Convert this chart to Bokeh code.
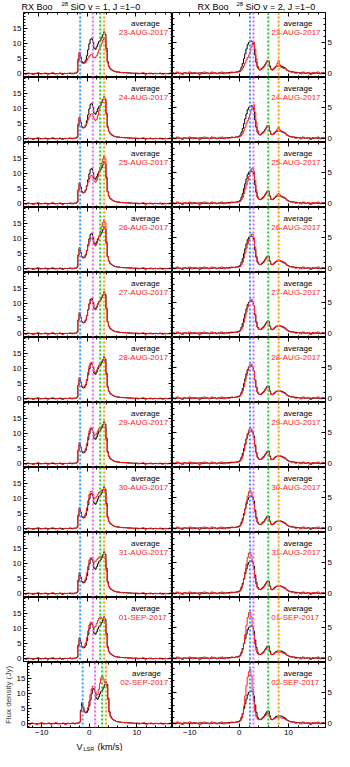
from bokeh.plotting import figure
from bokeh.layouts import column, row
from bokeh.models import Span, LinearAxis, FixedTicker, Range1d
from bokeh.embed import file_html
from bokeh.resources import INLINE
from bokeh.core.properties import value

FONT = "Liberation Sans"

# ---------------- data ----------------
DATES = ["23-AUG-2017", "24-AUG-2017", "25-AUG-2017", "26-AUG-2017", "27-AUG-2017",
         "28-AUG-2017", "29-AUG-2017", "30-AUG-2017", "31-AUG-2017", "01-SEP-2017", "02-SEP-2017"]

# velocity channels (km/s), left: 28SiO v=1 J=1-0
VEL_L = [-13.0, -12.5, -12.0, -11.5, -11.0, -10.5, -10.0, -9.5, -9.0, -8.5, -8.0, -7.5, -7.0, -6.5,
         -6.0, -5.5, -5.0, -4.5, -4.0, -3.5, -3.0, -2.5,
         -2.25, -2.0, -1.75, -1.5, -1.25, -1.0, -0.75, -0.5, -0.25, 0.0, 0.25, 0.5, 0.75, 1.0, 1.25,
         1.5, 1.75, 2.0, 2.25, 2.5, 2.75, 3.0, 3.25, 3.5, 3.75, 4.0, 4.25, 4.5, 4.75, 5.0, 5.25, 5.5,
         5.75, 6.0,
         6.5, 7.0, 7.5, 8.0, 8.5, 9.0, 9.5, 10.0, 10.5, 11.0, 11.5, 12.0, 12.5, 13.0, 13.5, 14.0,
         14.5, 15.0, 15.5, 16.0, 16.5, 17.0, 17.5]

AVG_L = [0.0, 0.0, 0.05, 0.0, -0.05, 0.0, 0.05, 0.0, 0.0, 0.05, 0.0, 0.0, 0.05, 0.0, 0.0, 0.05,
         0.0, 0.05, 0.05, 0.1, 0.1, 0.15,
         0.2, 0.5, 4.5, 7.0, 5.5, 4.0, 3.6, 3.8, 4.5, 6.0, 8.0, 10.0, 11.5, 11.8, 10.5, 8.5, 8.2,
         9.0, 10.0, 10.8, 11.2, 12.0, 13.0, 14.0, 13.2, 8.5, 4.0, 2.5, 1.8, 1.4, 1.1, 0.9, 0.7, 0.6,
         0.5, 0.4, 0.35, 0.3, 0.25, 0.2, 0.15, 0.1, 0.1, 0.05, 0.05, 0.0, 0.05, 0.0, 0.0, 0.05,
         0.0, 0.0, 0.05, 0.0, 0.0, 0.0, 0.0]

RED_L_WING_LO = [0.1, -0.2, 0.2, 0.0, -0.3, 0.1, 0.3, -0.1, 0.0, 0.2, -0.2, 0.1, 0.3, -0.1, 0.0,
                 0.2, -0.3, 0.1, 0.0, 0.2, -0.1, 0.1]
RED_L_WING_HI = [0.5, 0.4, 0.3, 0.3, 0.1, 0.2, 0.0, 0.2, -0.1, 0.1, 0.3, -0.2, 0.0, 0.2, -0.1,
                 0.1, 0.0, 0.2, -0.2, 0.1, 0.0, 0.2, -0.1]

RED_L_23AUG = [0.1, 0.6, 5.0, 7.2, 5.0, 3.6, 3.4, 3.5, 3.8, 4.5, 5.2, 5.8, 6.3, 6.4, 5.8, 5.3, 5.5,
               6.0, 7.0, 8.0, 9.0, 10.0, 11.2, 12.0, 11.5, 7.5, 3.6, 2.3, 1.7, 1.3, 1.0, 0.8, 0.7, 0.5]
RED_L_24AUG = [0.1, 0.6, 5.0, 7.3, 5.2, 3.8, 3.6, 3.8, 4.3, 5.2, 6.3, 7.3, 8.1, 8.3, 7.5, 6.5, 6.1,
               6.5, 7.8, 9.5, 11.0, 12.2, 13.2, 13.9, 13.0, 8.2, 3.8, 2.4, 1.8, 1.3, 1.0, 0.8, 0.7, 0.5]
RED_L_25AUG = [0.1, 0.5, 4.5, 6.5, 5.0, 3.8, 3.6, 3.9, 4.6, 5.8, 7.2, 8.4, 9.3, 9.6, 8.8, 7.5, 7.2,
               7.8, 9.0, 10.5, 12.0, 13.5, 15.0, 16.0, 15.0, 9.0, 4.0, 2.5, 1.8, 1.4, 1.1, 0.9, 0.7, 0.6]
RED_L_26AUG = [0.1, 0.5, 4.6, 6.6, 5.2, 3.9, 3.7, 4.0, 4.8, 6.1, 7.6, 8.9, 9.9, 10.2, 9.3, 7.9, 7.6,
               8.3, 9.5, 11.0, 12.5, 14.0, 15.5, 16.5, 15.3, 9.2, 4.1, 2.6, 1.9, 1.4, 1.1, 0.9, 0.7, 0.6]
RED_L_27AUG = [0.1, 0.5, 4.6, 6.8, 5.4, 4.0, 3.7, 3.9, 4.6, 6.0, 8.0, 9.8, 11.0, 11.2, 10.0, 8.3, 8.0,
               8.8, 9.8, 10.6, 11.2, 12.0, 12.8, 13.5, 12.8, 8.3, 3.9, 2.5, 1.8, 1.4, 1.1, 0.9, 0.7, 0.6]
RED_L_28AUG = [0.1, 0.5, 4.5, 6.8, 5.5, 4.2, 3.8, 4.0, 4.8, 6.5, 8.8, 10.8, 12.0, 12.2, 10.8, 9.0, 8.8,
               9.5, 10.5, 11.3, 11.8, 12.3, 12.8, 13.0, 12.2, 8.0, 3.8, 2.4, 1.8, 1.4, 1.1, 0.9, 0.7, 0.6]
RED_L_29AUG = [0.1, 0.5, 4.4, 6.5, 5.4, 4.1, 3.8, 4.1, 5.0, 6.8, 9.0, 11.0, 12.0, 12.0, 10.8, 9.5, 9.6,
               10.2, 11.0, 11.8, 12.2, 12.4, 12.6, 12.5, 11.8, 7.8, 3.7, 2.4, 1.8, 1.4, 1.1, 0.9, 0.7, 0.6]
RED_L_30AUG = [0.1, 0.5, 4.2, 6.2, 5.2, 4.0, 3.8, 4.2, 5.2, 7.0, 9.3, 11.4, 12.4, 12.6, 11.4, 10.2, 10.3,
               10.8, 11.5, 12.2, 12.6, 12.8, 13.0, 12.9, 12.0, 7.8, 3.7, 2.4, 1.8, 1.4, 1.1, 0.9, 0.7, 0.6]
RED_L_31AUG = [0.1, 0.5, 4.1, 6.0, 5.1, 4.0, 3.8, 4.2, 5.2, 7.0, 9.2, 11.2, 12.0, 12.0, 11.3, 10.6, 10.8,
               11.3, 11.8, 12.2, 12.5, 12.6, 12.6, 12.4, 11.6, 7.6, 3.6, 2.4, 1.8, 1.4, 1.1, 0.9, 0.7, 0.6]
RED_L_01SEP = [0.1, 0.5, 4.0, 6.0, 5.0, 3.9, 3.8, 4.2, 5.2, 7.1, 9.3, 11.3, 12.2, 12.0, 11.0, 10.3, 10.8,
               11.8, 12.8, 13.6, 14.0, 13.6, 13.0, 12.7, 11.8, 7.6, 3.6, 2.4, 1.8, 1.4, 1.1, 0.9, 0.7, 0.6]
RED_L_02SEP = [0.1, 0.5, 4.0, 6.0, 5.0, 3.9, 3.8, 4.3, 5.4, 7.4, 9.6, 11.6, 12.5, 12.5, 11.0, 9.5, 9.8,
               11.5, 13.5, 15.3, 16.0, 15.0, 13.8, 13.5, 12.5, 8.0, 3.7, 2.4, 1.8, 1.4, 1.1, 0.9, 0.7, 0.6]

# velocity channels (km/s), right: 28SiO v=2 J=1-0
VEL_R = [-13.5, -13.0, -12.5, -12.0, -11.5, -11.0, -10.5, -10.0, -9.5, -9.0, -8.5, -8.0, -7.5, -7.0,
         -6.5, -6.0, -5.5, -5.0, -4.5, -4.0, -3.5, -3.0, -2.5, -2.0, -1.5, -1.0, -0.5,
         0.0, 0.25, 0.5, 0.75, 1.0, 1.25, 1.5, 1.75, 2.0, 2.25, 2.5, 2.75, 3.0, 3.25, 3.5, 3.75, 4.0,
         4.25, 4.5, 4.75, 5.0, 5.25, 5.5, 5.75, 6.0, 6.25, 6.5, 6.75, 7.0, 7.25, 7.5, 7.75, 8.0, 8.25,
         8.5, 8.75, 9.0, 9.25, 9.5, 9.75, 10.0, 10.25, 10.5,
         11.0, 11.5, 12.0, 12.5, 13.0, 13.5, 14.0, 14.5, 15.0, 15.5, 16.0, 16.5, 17.0, 17.5]

AVG_R = [0.0, 0.0, 0.05, 0.0, 0.0, 0.05, 0.0, 0.0, 0.05, 0.0, 0.0, 0.05, 0.0, 0.0, 0.05, 0.0, 0.0,
         0.05, 0.0, 0.05, 0.0, 0.05, 0.05, 0.1, 0.1, 0.15, 0.2,
         0.3, 0.5, 1.0, 1.6, 2.4, 3.2, 4.0, 4.7, 5.1, 5.3, 5.3, 5.2, 4.5, 3.0, 1.8, 1.0, 0.7, 0.6,
         0.7, 0.9, 1.1, 1.4, 1.7, 2.0, 2.0, 1.2, 0.7, 0.6, 0.7, 0.9, 1.1, 1.2, 1.2, 1.2, 1.2, 1.1,
         1.0, 0.9, 0.7, 0.5, 0.4, 0.3, 0.25,
         0.2, 0.15, 0.1, 0.05, 0.05, 0.0, 0.05, 0.0, 0.0, 0.05, 0.0, 0.0, 0.05, 0.0]

RED_R_WING_LO = [0.1, -0.1, 0.2, 0.0, -0.2, 0.1, 0.0, 0.2, -0.1, 0.1, 0.0, -0.2, 0.1, 0.2, 0.0, -0.1,
                 0.2, 0.1, -0.1, 0.0, 0.2, -0.1, 0.1, 0.0, 0.2, 0.1, 0.2]
RED_R_WING_HI = [0.2, 0.0, 0.1, -0.1, 0.2, 0.0, 0.1, -0.2, 0.1, 0.0, 0.2, -0.1, 0.1, 0.0]

RED_R_23AUG = [0.2, 0.3, 0.5, 0.8, 1.2, 1.7, 2.2, 2.6, 3.0, 3.5, 4.3, 5.0, 5.1, 4.0, 2.4, 1.2, 0.7, 0.5,
               0.6, 0.8, 1.0, 1.3, 1.7, 2.1, 2.0, 1.0, 0.6, 0.5, 0.8, 1.0, 1.1, 1.6, 2.1, 1.4, 1.0, 0.9,
               0.8, 0.8, 0.7, 0.5, 0.4, 0.3, 0.2]
RED_R_24AUG = [0.2, 0.3, 0.5, 0.8, 1.3, 1.8, 2.4, 2.9, 3.4, 4.0, 4.7, 5.4, 5.5, 4.3, 2.6, 1.3, 0.7, 0.5,
               0.6, 0.8, 1.0, 1.3, 1.7, 2.1, 2.1, 1.1, 0.6, 0.6, 0.8, 1.0, 1.2, 1.5, 1.8, 1.4, 1.1, 1.0,
               0.9, 0.8, 0.7, 0.5, 0.4, 0.3, 0.2]
RED_R_25AUG = [0.2, 0.3, 0.6, 1.0, 1.6, 2.3, 3.0, 3.7, 4.4, 5.0, 5.6, 5.8, 5.3, 3.8, 2.2, 1.1, 0.7, 0.6,
               0.6, 0.8, 1.0, 1.3, 1.6, 2.0, 2.0, 1.1, 0.6, 0.6, 0.8, 1.0, 1.2, 1.4, 1.6, 1.4, 1.1, 1.0,
               0.9, 0.8, 0.7, 0.5, 0.4, 0.3, 0.2]
RED_R_26AUG = [0.2, 0.3, 0.6, 1.0, 1.7, 2.5, 3.3, 4.0, 4.7, 5.2, 5.6, 5.6, 5.0, 3.5, 2.0, 1.1, 0.7, 0.6,
               0.6, 0.8, 1.0, 1.3, 1.6, 1.9, 1.9, 1.1, 0.6, 0.6, 0.8, 1.0, 1.1, 1.3, 1.4, 1.3, 1.1, 1.0,
               0.9, 0.8, 0.7, 0.5, 0.4, 0.3, 0.2]
RED_R_27AUG = [0.2, 0.4, 0.7, 1.1, 1.8, 2.6, 3.5, 4.3, 5.0, 5.5, 5.6, 5.3, 4.6, 3.2, 1.9, 1.0, 0.7, 0.6,
               0.6, 0.8, 1.0, 1.3, 1.6, 1.9, 1.9, 1.1, 0.6, 0.6, 0.8, 1.0, 1.1, 1.2, 1.3, 1.2, 1.1, 1.0,
               0.9, 0.8, 0.7, 0.5, 0.4, 0.3, 0.2]
RED_R_28AUG = [0.2, 0.4, 0.7, 1.2, 1.9, 2.8, 3.7, 4.5, 5.2, 5.6, 5.6, 5.2, 4.4, 3.0, 1.8, 1.0, 0.7, 0.6,
               0.6, 0.8, 1.0, 1.3, 1.6, 1.9, 1.8, 1.1, 0.6, 0.6, 0.8, 1.0, 1.1, 1.2, 1.2, 1.2, 1.1, 1.0,
               0.9, 0.8, 0.7, 0.5, 0.4, 0.3, 0.2]
RED_R_29AUG = [0.2, 0.4, 0.7, 1.2, 2.0, 3.0, 4.0, 4.9, 5.5, 5.8, 5.6, 5.0, 4.2, 2.8, 1.7, 1.0, 0.7, 0.6,
               0.6, 0.8, 1.0, 1.3, 1.6, 1.9, 1.8, 1.1, 0.6, 0.6, 0.8, 1.0, 1.1, 1.2, 1.2, 1.2, 1.1, 1.0,
               0.9, 0.8, 0.7, 0.5, 0.4, 0.3, 0.2]
RED_R_30AUG = [0.2, 0.4, 0.8, 1.3, 2.1, 3.2, 4.3, 5.3, 6.0, 6.2, 5.8, 5.0, 4.0, 2.7, 1.6, 1.0, 0.7, 0.6,
               0.6, 0.8, 1.0, 1.3, 1.6, 1.9, 1.8, 1.1, 0.6, 0.6, 0.8, 1.0, 1.1, 1.2, 1.2, 1.2, 1.1, 1.0,
               0.9, 0.8, 0.7, 0.5, 0.4, 0.3, 0.2]
RED_R_31AUG = [0.2, 0.4, 0.8, 1.4, 2.3, 3.5, 4.8, 5.9, 6.6, 6.8, 6.2, 5.1, 3.9, 2.5, 1.5, 0.9, 0.7, 0.6,
               0.6, 0.8, 1.0, 1.3, 1.6, 1.9, 1.8, 1.1, 0.6, 0.6, 0.8, 1.0, 1.1, 1.2, 1.2, 1.2, 1.1, 1.0,
               0.9, 0.8, 0.7, 0.5, 0.4, 0.3, 0.2]
RED_R_01SEP = [0.2, 0.4, 0.8, 1.4, 2.5, 3.9, 5.4, 6.7, 7.5, 7.6, 6.8, 5.3, 3.8, 2.3, 1.3, 0.8, 0.6, 0.6,
               0.6, 0.8, 1.0, 1.3, 1.5, 1.8, 1.7, 1.0, 0.6, 0.6, 0.7, 0.9, 1.0, 1.0, 1.0, 1.0, 1.0, 0.9,
               0.8, 0.8, 0.6, 0.5, 0.4, 0.3, 0.2]
RED_R_02SEP = [0.2, 0.4, 0.8, 1.5, 2.8, 4.5, 6.2, 7.6, 8.5, 8.9, 7.8, 5.6, 3.6, 2.0, 1.1, 0.7, 0.6, 0.6,
               0.6, 0.8, 1.0, 1.2, 1.4, 1.7, 1.6, 1.0, 0.6, 0.6, 0.7, 0.8, 0.9, 0.9, 0.9, 0.9, 0.9, 0.8,
               0.8, 0.7, 0.6, 0.5, 0.4, 0.3, 0.2]

RED_L = [RED_L_23AUG, RED_L_24AUG, RED_L_25AUG, RED_L_26AUG, RED_L_27AUG, RED_L_28AUG,
         RED_L_29AUG, RED_L_30AUG, RED_L_31AUG, RED_L_01SEP, RED_L_02SEP]
RED_R = [RED_R_23AUG, RED_R_24AUG, RED_R_25AUG, RED_R_26AUG, RED_R_27AUG, RED_R_28AUG,
         RED_R_29AUG, RED_R_30AUG, RED_R_31AUG, RED_R_01SEP, RED_R_02SEP]

# marker velocities (km/s) of the dotted lines
VLINES_L = [-1.4, 1.2, 2.7, 3.5]
VLINES_R = [2.2, 2.9, 5.9, 8.0]
VLINE_COLORS = ["#3399ff", "#ee66ee", "#22cc22", "#ff9900"]

# axis ranges and tick values
XL = (-13.0, 17.5)
XR = (-13.5, 17.5)
YL = (-1.3, 20.5)
YR = (-0.7, 10.0)
X_MAJOR = [-10, 0, 10]
X_MINOR = [-12, -8, -6, -4, -2, 2, 4, 6, 8, 12, 14, 16]
YL_MAJOR = [0, 5, 10, 15]
YL_MINOR = [-1, 1, 2, 3, 4, 6, 7, 8, 9, 11, 12, 13, 14, 16, 17, 18, 19, 20]
YR_MAJOR = [0, 5]
YR_MINOR = [1, 2, 3, 4, 6, 7, 8, 9]

# ---------------- layout ----------------
BL = 23      # left border of left column
BR = 8       # right border of right column
FW_L = 149
FW_R = 154
FH = 65
BB = 13
NROW = len(DATES)
RED = "#ff1a1a"


def labeled_axis(p, side, major, minor):
    ax = LinearAxis(ticker=FixedTicker(ticks=major, minor_ticks=minor))
    ax.major_tick_in = 4
    ax.major_tick_out = 0
    ax.minor_tick_in = 2
    ax.minor_tick_out = 0
    ax.axis_line_color = "black"
    ax.major_tick_line_color = "black"
    ax.minor_tick_line_color = "black"
    ax.major_label_text_font = FONT
    ax.major_label_text_font_size = "8px"
    ax.major_label_text_color = "black"
    ax.major_label_standoff = 2
    p.add_layout(ax, side)
    return ax


def bare_axis(p, side, major, minor):
    # ticks only, no labels: minor ticks and major ticks drawn as short/long marks
    for ticks, length in ((minor, 2), (major, 4)):
        ax = LinearAxis(ticker=FixedTicker(ticks=[], minor_ticks=ticks))
        ax.axis_line_color = None
        ax.major_tick_line_color = None
        ax.major_tick_in = 0
        ax.major_tick_out = 0
        ax.minor_tick_in = length
        ax.minor_tick_out = 0
        ax.minor_tick_line_color = "black"
        ax.major_label_standoff = 0
        p.add_layout(ax, side)


def panel(col, i):
    bottom = (i == NROW - 1)
    if col == 0:
        xr, yr, fw, vel = XL, YL, FW_L, VEL_L
        avg = AVG_L
        red = RED_L_WING_LO + RED_L[i] + RED_L_WING_HI
        vlines = VLINES_L
        ymaj, ymin = YL_MAJOR, YL_MINOR
    else:
        xr, yr, fw, vel = XR, YR, FW_R, VEL_R
        avg = AVG_R
        red = RED_R_WING_LO + RED_R[i] + RED_R_WING_HI
        vlines = VLINES_R
        ymaj, ymin = YR_MAJOR, YR_MINOR
    bl = BL if col == 0 else 0
    br = BR if col == 1 else 0
    bb = BB if bottom else 0
    p = figure(width=bl + fw + br, height=FH + bb,
               x_range=Range1d(*xr), y_range=Range1d(*yr),
               x_axis_location=None, y_axis_location=None,
               output_backend="svg", toolbar_location=None,
               min_border_left=bl, min_border_right=br,
               min_border_top=0, min_border_bottom=bb)
    p.grid.visible = False
    p.xgrid.grid_line_color = None
    p.ygrid.grid_line_color = None
    p.outline_line_color = "black"
    p.outline_line_width = 1
    p.background_fill_color = "white"
    p.border_fill_color = "white"

    # axes on all four sides, ticks pointing inward
    if col == 0:
        ax_left = labeled_axis(p, "left", ymaj, ymin)
        if bottom:
            ax_left.axis_label = "Flux density (Jy)"
            ax_left.axis_label_text_font = FONT
            ax_left.axis_label_text_font_size = "8px"
            ax_left.axis_label_text_font_style = "normal"
            ax_left.axis_label_standoff = 1
        bare_axis(p, "right", ymaj, ymin)
    else:
        bare_axis(p, "left", ymaj, ymin)
        labeled_axis(p, "right", ymaj, ymin)
    bare_axis(p, "above", X_MAJOR, X_MINOR)
    if bottom:
        labeled_axis(p, "below", X_MAJOR, X_MINOR)
    else:
        bare_axis(p, "below", X_MAJOR, X_MINOR)

    for v, c in zip(vlines, VLINE_COLORS):
        p.add_layout(Span(location=v, dimension="height", line_color=c,
                          line_width=2, line_dash="2 2"))

    p.step(vel, avg, mode="center", line_color="black", line_width=1)
    p.step(vel, red, mode="center", line_color=RED, line_width=1)

    y0, y1 = yr
    p.text(x=[9.0], y=[y1 - 0.17 * (y1 - y0)], text=["average"],
           text_font=value(FONT), text_font_size="8px", text_color="black",
           text_align="left", text_baseline="middle")
    p.text(x=[6.5], y=[y1 - 0.30 * (y1 - y0)], text=[DATES[i]],
           text_font=value(FONT), text_font_size="8px", text_color=RED,
           text_align="left", text_baseline="middle")
    return p


W = BL + FW_L + FW_R + BR

header = figure(width=W, height=12, x_range=Range1d(0, W), y_range=Range1d(0, 12),
                x_axis_location=None, y_axis_location=None, output_backend="svg",
                toolbar_location=None, min_border=0)
header.outline_line_color = None
header.grid.visible = False
HDR_TXT = ["RX Boo", "SiO v = 1, J =1\u22120", "RX Boo", "SiO v = 2, J =1\u22120"]
HDR_X = [21, 70, 197, 245]
header.text(x=HDR_X, y=[6] * 4, text=HDR_TXT, text_font=value(FONT), text_font_size="9px",
            text_color="black", text_align="left", text_baseline="middle")
header.text(x=[61, 236], y=[8.5, 8.5], text=["28", "28"], text_font=value(FONT),
            text_font_size="6px", text_color="black", text_align="left", text_baseline="middle")

footer = figure(width=W, height=11, x_range=Range1d(0, W), y_range=Range1d(0, 11),
                x_axis_location=None, y_axis_location=None, output_backend="svg",
                toolbar_location=None, min_border=0)
footer.outline_line_color = None
footer.grid.visible = False
footer.text(x=[76, 97], y=[6, 6], text=["V", "(km/s)"], text_font=value(FONT),
            text_font_size="9px", text_color="black", text_align="left", text_baseline="middle")
footer.text(x=[83], y=[3.5], text=["LSR"], text_font=value(FONT),
            text_font_size="5.5px", text_color="black", text_align="left", text_baseline="middle")

rows = [row(panel(0, i), panel(1, i), spacing=0) for i in range(NROW)]
layout = column(header, *rows, footer, spacing=0)

open("out.html", "w").write(file_html(layout, INLINE, title="RX Boo SiO"))
